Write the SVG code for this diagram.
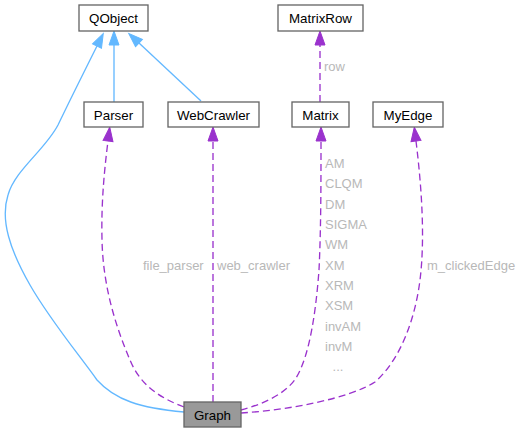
<svg xmlns="http://www.w3.org/2000/svg" width="525" height="433" viewBox="0 0 525 433">
<style>
  .node rect { fill: #ffffff; stroke: #666666; stroke-width: 1.33; }
  .node.hl rect { fill: #999999; }
  .node text { font-family: "Liberation Sans", Arial, Helvetica, sans-serif; font-size: 13.33px; fill: #000000; text-anchor: middle; }
  .inh { fill: none; stroke: #63b8ff; stroke-width: 1.33; marker-end: url(#ab); }
  .use { fill: none; stroke: #9a32cd; stroke-width: 1.33; stroke-dasharray: 7,4; marker-end: url(#ap); }
  .lbl { font-family: "Liberation Sans", Arial, Helvetica, sans-serif; font-size: 13px; fill: #b8b8b8; }
</style>
<defs>
  <marker id="ab" markerUnits="userSpaceOnUse" markerWidth="16" markerHeight="12" refX="0" refY="5" orient="auto" overflow="visible">
    <polygon points="0,0 14,5 0,10" fill="#63b8ff" stroke="#63b8ff" stroke-width="1"/>
  </marker>
  <marker id="ap" markerUnits="userSpaceOnUse" markerWidth="16" markerHeight="12" refX="0" refY="5" orient="auto" overflow="visible">
    <polygon points="0,0 14,5 0,10" fill="#9a32cd" stroke="#9a32cd" stroke-width="1"/>
  </marker>
</defs>
<rect width="525" height="433" fill="#ffffff"/>
<g id="connectors">
  <path class="inh" d="M184,412 C140,408 115,400 97,380 C80,356 50,320 30,285 C10,250 0,220 8,195 C15,170 45,150 58,125 C70,100 85,70 97,46"/>
  <path class="inh" d="M114,102 L114,45"/>
  <path class="inh" d="M201,101 L139,43"/>
  <path class="use" d="M184,407 C160,398 140,385 130,360 C115,325 103,285 102,240 C101,200 105,165 108,141"/>
  <path class="use" d="M213,402 L213,141"/>
  <path class="use" d="M241,410 C260,405 285,395 296,378 C310,355 316,310 319,270 C321,230 321,180 321,141"/>
  <path class="use" d="M241,413 C290,410 350,398 375,382 C400,360 415,320 420,280 C425,240 422,190 416,141"/>
  <path class="use" d="M320,102 L320,45"/>
  <text class="lbl" x="324" y="71">row</text>
  <text class="lbl" x="143" y="270">file_parser</text>
  <text class="lbl" x="217" y="270">web_crawler</text>
  <text class="lbl" x="427" y="270">m_clickedEdge</text>
  <text class="lbl" x="325" y="168">AM</text>
  <text class="lbl" x="325" y="188">CLQM</text>
  <text class="lbl" x="325" y="209">DM</text>
  <text class="lbl" x="325" y="229">SIGMA</text>
  <text class="lbl" x="325" y="249">WM</text>
  <text class="lbl" x="325" y="270">XM</text>
  <text class="lbl" x="325" y="290">XRM</text>
  <text class="lbl" x="325" y="310">XSM</text>
  <text class="lbl" x="325" y="331">invAM</text>
  <text class="lbl" x="325" y="351">invM</text>
  <text class="lbl" x="338" y="371" text-anchor="middle">...</text>
</g>
<g id="QObject" class="node"><rect x="79" y="5" width="69" height="26"/><text x="113.5" y="23">QObject</text></g>
<g id="Parser" class="node"><rect x="84" y="102" width="59" height="25"/><text x="113.5" y="120">Parser</text></g>
<g id="WebCrawler" class="node"><rect x="168" y="102" width="91" height="25"/><text x="213.5" y="120">WebCrawler</text></g>
<g id="MatrixRow" class="node"><rect x="278" y="5" width="85" height="26"/><text x="320.5" y="23">MatrixRow</text></g>
<g id="Matrix" class="node"><rect x="292" y="102" width="57" height="25"/><text x="320.5" y="120">Matrix</text></g>
<g id="MyEdge" class="node"><rect x="373" y="102" width="70" height="25"/><text x="408" y="120">MyEdge</text></g>
<g id="Graph" class="node hl"><rect x="184" y="402" width="57" height="25"/><text x="212.5" y="420">Graph</text></g>
</svg>
